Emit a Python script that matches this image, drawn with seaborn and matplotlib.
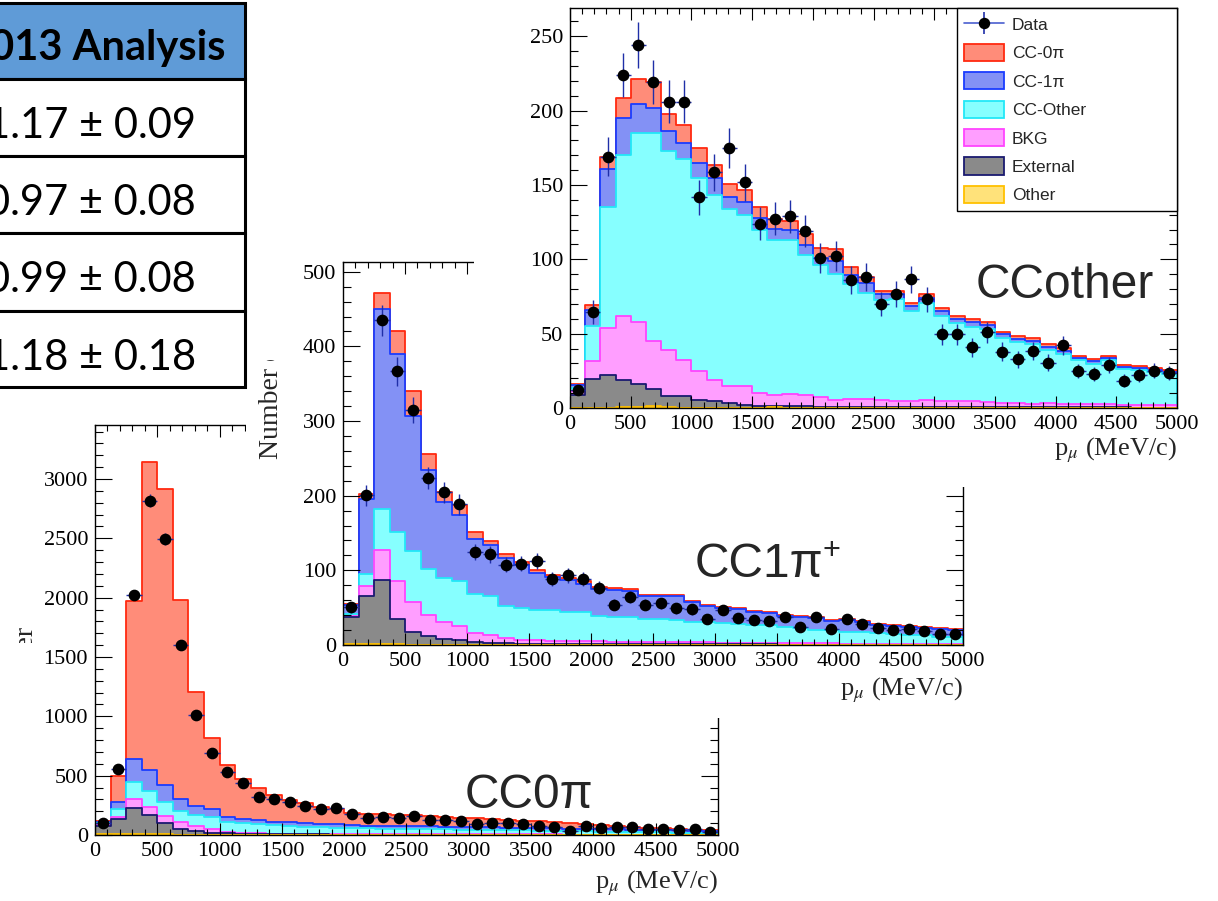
import numpy as np
import matplotlib
matplotlib.use("Agg")
import matplotlib.pyplot as plt
import seaborn as sns
from matplotlib.patches import Rectangle, Patch
from matplotlib.lines import Line2D
from matplotlib.ticker import MultipleLocator
from matplotlib.transforms import Bbox, TransformedBbox

sns.set_style("ticks")
plt.rcParams["font.family"] = ["Liberation Serif", "DejaVu Serif"]
plt.rcParams["mathtext.fontset"] = "stix"

# ------------------------------------------------------------------ data
bin_edges = list(range(0, 5001, 125))          # p_mu bins (MeV/c)
layer_names = ["CC-0\u03c0", "CC-1\u03c0", "CC-Other", "BKG", "External", "Other"]

table_header = "2013 Analysis"
table_rows = ["1.17 \u00b1 0.09", "0.97 \u00b1 0.08", "0.99 \u00b1 0.08", "1.18 \u00b1 0.18"]

# --- CCother sample: cumulative stack tops (top layer first) + data
ccoth_total = [16.2, 69.0, 169.0, 208.5, 221.5, 219.0, 198.0, 190.0, 175.0, 163.5,
               150.5, 146.7, 135.0, 127.0, 126.0, 117.0, 107.4, 107.0, 95.0, 88.3,
               79.0, 78.9, 70.8, 76.4, 67.4, 62.1, 59.6, 58.0, 51.3, 48.4,
               47.0, 42.8, 40.1, 35.2, 32.7, 35.2, 28.9, 28.4, 26.7, 25.5]
ccoth_to_1pi = [15.3, 66.0, 161.0, 195.0, 204.5, 202.0, 186.5, 178.5, 165.0, 155.0,
                142.0, 138.6, 128.0, 120.7, 119.5, 109.7, 101.0, 99.0, 89.4, 84.3,
                76.5, 76.6, 68.6, 74.2, 65.2, 60.1, 57.6, 56.0, 49.5, 46.6,
                45.2, 41.2, 38.5, 33.8, 31.4, 33.8, 27.7, 27.2, 25.6, 24.5]
ccoth_to_oth = [13.5, 55.0, 135.0, 170.0, 185.0, 185.0, 172.5, 167.5, 154.5, 143.0,
                133.7, 130.0, 120.0, 112.8, 112.8, 102.7, 96.0, 90.0, 83.6, 77.5,
                72.5, 73.4, 65.4, 70.9, 62.2, 57.3, 54.8, 53.3, 46.9, 44.1,
                43.0, 39.1, 36.5, 32.0, 29.6, 32.0, 26.1, 25.7, 24.1, 23.1]
ccoth_to_bkg = [11.7, 31.5, 53.5, 62.0, 58.0, 45.0, 39.0, 32.0, 25.0, 19.0,
                14.6, 14.6, 10.0, 9.0, 9.7, 9.0, 7.2, 5.6, 6.3, 6.3,
                5.5, 5.0, 5.0, 5.5, 4.5, 4.5, 4.6, 4.0, 3.5, 3.6,
                3.0, 3.1, 3.0, 2.5, 2.6, 2.4, 2.0, 2.1, 2.0, 1.9]
ccoth_to_ext = [9.0, 19.5, 22.0, 18.5, 16.0, 13.0, 8.0, 8.0, 5.6, 5.0,
                3.4, 2.2, 1.6, 1.6, 1.5, 1.3, 1.0, 1.0, 0.9, 0.9,
                0.8, 0.8, 0.8, 0.7, 0.7, 0.7, 0.6, 0.6, 0.6, 0.5,
                0.5, 0.5, 0.5, 0.4, 0.4, 0.4, 0.4, 0.3, 0.3, 0.3]
ccoth_to_other = [0.2, 0.2, 0.3, 0.4, 0.6, 1.2, 0.4, 0.3, 0.2, 0.2,
                  0.2, 0.2, 0.3, 1.0, 0.3, 0.2, 0.2, 0.2, 0.2, 0.2,
                  0.2, 0.2, 0.2, 0.2, 0.2, 0.2, 0.2, 0.2, 0.2, 0.2,
                  0.2, 0.2, 0.2, 0.2, 0.2, 0.2, 0.2, 0.2, 0.2, 0.2]
ccoth_data = [11.9, 64.5, 169.0, 224.0, 244.0, 219.5, 206.0, 206.0, 141.6, 158.4,
              174.8, 151.7, 124.0, 127.4, 128.8, 119.0, 100.7, 102.2, 86.0, 88.0,
              69.9, 76.4, 86.5, 73.0, 49.7, 49.7, 40.8, 51.0, 37.9, 32.7,
              38.5, 30.5, 42.1, 24.9, 22.8, 28.7, 18.4, 22.2, 25.1, 23.7]

# --- CC1pi+ sample
cc1pi_total = [55.0, 201.6, 471.8, 421.0, 339.6, 255.8, 205.2, 187.3, 151.4, 139.3,
               122.3, 111.1, 100.0, 94.0, 89.6, 85.1, 77.5, 76.2, 74.4, 67.2,
               67.0, 66.7, 58.7, 53.3, 51.1, 50.2, 45.3, 44.4, 40.0, 39.1,
               37.8, 33.3, 34.2, 32.4, 28.0, 26.7, 25.3, 24.4, 22.2, 20.9]
cc1pi_to_1pi = [53.0, 195.0, 449.4, 389.8, 307.3, 234.3, 190.9, 173.8, 142.5, 133.5,
                117.0, 106.6, 96.8, 91.0, 87.4, 82.0, 75.3, 73.9, 71.7, 65.4,
                65.3, 65.0, 57.0, 51.6, 49.5, 48.6, 43.8, 42.9, 38.6, 37.7,
                36.4, 32.0, 32.9, 31.2, 26.9, 25.6, 24.3, 23.4, 21.3, 20.0]
cc1pi_to_oth = [41.7, 95.4, 182.0, 151.4, 125.9, 102.0, 90.0, 86.0, 67.7, 65.4,
                52.9, 49.3, 47.5, 47.5, 43.9, 43.9, 39.4, 37.2, 37.2, 35.0,
                34.2, 33.3, 31.2, 30.8, 28.9, 28.7, 26.7, 26.4, 23.6, 23.3,
                20.2, 19.8, 17.8, 17.5, 15.6, 15.3, 13.4, 13.1, 11.2, 10.9]
cc1pi_to_bkg = [38.5, 78.9, 126.8, 85.1, 58.2, 40.3, 30.5, 26.0, 15.7, 14.0,
                9.4, 7.2, 6.7, 5.8, 5.5, 5.0, 5.0, 4.5, 4.5, 4.0,
                4.0, 3.5, 3.5, 3.5, 3.0, 3.0, 3.0, 2.8, 2.5, 2.5,
                2.5, 2.3, 2.0, 2.0, 2.0, 1.9, 1.8, 1.6, 1.5, 1.5]
cc1pi_to_ext = [37.0, 65.4, 86.5, 35.0, 17.0, 11.6, 8.0, 6.7, 3.6, 2.7,
                2.2, 2.0, 1.8, 1.6, 1.5, 1.4, 1.2, 1.1, 1.0, 1.0,
                0.9, 0.9, 0.8, 0.8, 0.8, 0.7, 0.7, 0.7, 0.6, 0.6,
                0.6, 0.5, 0.5, 0.5, 0.5, 0.4, 0.4, 0.4, 0.4, 0.4]
cc1pi_to_other = [1.5, 1.5, 1.5, 1.5, 0.4, 0.3, 0.2, 0.2, 0.2, 0.2,
                  0.2, 0.2, 0.2, 0.2, 0.2, 0.2, 0.2, 0.2, 0.2, 0.2,
                  0.2, 0.2, 0.2, 0.2, 0.2, 0.2, 0.2, 0.2, 0.2, 0.2,
                  0.2, 0.2, 0.2, 0.2, 0.2, 0.2, 0.2, 0.2, 0.2, 0.2]
cc1pi_data = [50.6, 200.7, 435.0, 366.5, 315.0, 224.0, 204.3, 188.2, 124.6, 121.4,
              107.5, 108.9, 112.0, 87.8, 93.2, 87.8, 76.6, 53.8, 64.0, 53.8,
              55.6, 48.9, 47.6, 34.7, 46.7, 36.4, 33.3, 32.0, 37.8, 24.4,
              36.9, 20.9, 34.2, 27.6, 22.7, 19.6, 21.8, 18.7, 14.7, 15.1]

# --- CC0pi sample
cc0pi_total = [122, 497, 1972, 3146, 2913, 1978, 1208, 815, 590, 469,
               393, 337, 295, 267, 239, 216, 188, 177, 174, 167,
               165, 160, 152, 147, 140, 133, 128, 120, 114, 108,
               100, 93, 84, 78, 70, 62, 56, 50, 46, 40]
cc0pi_to_1pi = [112, 278, 640, 548, 418, 302, 245, 218, 150, 138,
                128, 112, 107, 98, 93, 90, 84, 79, 79, 76,
                74, 72, 70, 68, 66, 64, 62, 60, 58, 55,
                53, 51, 49, 47, 45, 43, 41, 38, 36, 33]
cc0pi_to_oth = [100, 220, 449, 370, 275, 200, 168, 148, 112, 98,
                93, 84, 76, 70, 65, 62, 59, 56, 53, 52,
                50, 48, 47, 45, 44, 42, 41, 39, 37, 35,
                33, 31, 29, 27, 25, 24, 22, 20, 18, 17]
cc0pi_to_bkg = [88, 154, 305, 239, 160, 110, 78, 52, 28, 20,
                14, 12, 11, 10, 9, 9, 8, 8, 7, 7,
                7, 6, 6, 6, 6, 5, 5, 5, 5, 5,
                4, 4, 4, 4, 4, 3, 3, 3, 3, 3]
cc0pi_to_ext = [75, 132, 230, 168, 102, 52, 36, 21, 14, 11,
                8, 7, 6, 5, 5, 4, 4, 4, 3, 3,
                3, 3, 3, 3, 2, 2, 2, 2, 2, 2,
                2, 2, 2, 1.5, 1.5, 1.5, 1.5, 1.5, 1, 1]
cc0pi_to_other = [8, 8, 8, 8, 8, 3, 2, 2, 1.5, 1.5,
                  1, 1, 1, 1, 1, 1, 1, 1, 1, 1,
                  1, 1, 1, 1, 1, 1, 1, 1, 1, 1,
                  1, 1, 1, 1, 1, 1, 1, 1, 1, 1]
cc0pi_data = [100, 553, 2022, 2817, 2494, 1601, 1011, 688, 534, 441,
              317, 307, 276, 241, 223, 226, 175, 145, 153, 145,
              157, 127, 125, 121, 95, 105, 99, 93, 78, 65,
              35, 78, 58, 71, 71, 50, 48, 42, 48, 22]

# ------------------------------------------------------------------ style
fill_colors = ["#ff8c79", "#8391f5", "#86ffff", "#ff9eff", "#8a8a8a", "#ffe27a"]
edge_colors = ["#ff2a10", "#1a3cff", "#22e8f8", "#ff44ff", "#1a1a70", "#ffc000"]
err_color = "#1f2fa8"

W, H = 1218, 901
fig = plt.figure(figsize=(W / 100, H / 100), dpi=100)
fig.patch.set_facecolor("white")


def frac(l, t, r, b):
    return [l / W, 1 - b / H, (r - l) / W, (b - t) / H]


def fx(px):
    return px / W


def fy(py):
    return 1 - py / H


centers = [(a + b) / 2 for a, b in zip(bin_edges[:-1], bin_edges[1:])]


def draw_panel(ax, levels, data, ymax, ymaj, ymin):
    for lev, fc, ec in zip(levels, fill_colors, edge_colors):
        sns.histplot(x=centers, weights=lev, bins=bin_edges, element="step",
                     fill=True, color=fc, edgecolor=ec, linewidth=1.3,
                     alpha=1, ax=ax)
    data = np.asarray(data, dtype=float)
    eb = ax.errorbar(centers, data, xerr=62.5, yerr=np.sqrt(data), fmt="o",
                     color="black", ms=7.4, ecolor=err_color, elinewidth=1.0,
                     capsize=0, zorder=5)
    ax.set_xlim(0, 5000)
    ax.set_ylim(0, ymax)
    ax.set_xlabel("")
    ax.set_ylabel("")
    ax.set_axisbelow(False)
    ax.set_facecolor("white")
    ax.xaxis.set_major_locator(MultipleLocator(500))
    ax.xaxis.set_minor_locator(MultipleLocator(100))
    ax.yaxis.set_major_locator(MultipleLocator(ymaj))
    ax.yaxis.set_minor_locator(MultipleLocator(ymin))
    ax.tick_params(which="both", direction="in", top=True, right=True,
                   labeltop=False, labelright=False, color="black", width=0.8)
    ax.tick_params(axis="x", which="major", length=8.6, pad=5)
    ax.tick_params(axis="x", which="minor", length=4.3)
    ax.tick_params(axis="y", which="major", length=12, pad=5)
    ax.tick_params(axis="y", which="minor", length=6)
    ax.tick_params(labelsize=16, labelcolor="black")
    for s in ax.spines.values():
        s.set_color("black")
        s.set_linewidth(1.0)
        s.set_zorder(6)
    return eb


def xlabel(ax, right_px, base_px):
    ax.text(fx(right_px), fy(base_px), r"p$_{\mu}$ (MeV/c)", transform=fig.transFigure,
            ha="right", va="baseline", fontsize=19, family="Liberation Serif")


def background(l, t, r, b):
    a = fig.add_axes(frac(l, t, r, b))
    a.set_facecolor("white")
    a.set_xticks([])
    a.set_yticks([])
    for s in a.spines.values():
        s.set_visible(False)
    return a


big = dict(fontsize=34.5, family=["Liberation Sans", "DejaVu Sans"], ha="left",
           va="baseline")

# ---------------- CC0pi (bottom-left, lowest layer)
ax0 = fig.add_axes(frac(95, 425, 718, 835))
draw_panel(ax0, [cc0pi_total, cc0pi_to_1pi, cc0pi_to_oth, cc0pi_to_bkg,
                 cc0pi_to_ext, cc0pi_to_other], cc0pi_data, 3455, 500, 100)
xlabel(ax0, 718, 888)
ax0.text(fx(465), fy(808), "CC0\u03c0", transform=fig.transFigure, **big)
t0 = ax0.text(fx(26), fy(626), "Number", transform=fig.transFigure, rotation=90,
              ha="center", va="top", fontsize=20, family="Liberation Serif")
t0.set_clip_on(True)
t0.set_clip_box(TransformedBbox(Bbox([[0, fy(643)], [fx(60), fy(626)]]), fig.transFigure))

# ---------------- CC1pi+ (middle)
background(246, 256, 992, 718)
ax1 = fig.add_axes(frac(343, 262, 963, 645))
draw_panel(ax1, [cc1pi_total, cc1pi_to_1pi, cc1pi_to_oth, cc1pi_to_bkg,
                 cc1pi_to_ext, cc1pi_to_other], cc1pi_data, 513, 100, 20)
xlabel(ax1, 963, 695)
ax1.text(fx(695), fy(577), "CC1\u03c0", transform=fig.transFigure, **big)
ax1.text(fx(823), fy(536), "+", transform=fig.transFigure, fontsize=22,
         family=["Liberation Sans", "DejaVu Sans"], ha="left", va="top")
t1 = ax1.text(fx(272), fy(459), "Number of events", transform=fig.transFigure,
              rotation=90, ha="center", va="bottom", fontsize=20,
              family="Liberation Serif")
t1.set_clip_on(True)
t1.set_clip_box(TransformedBbox(Bbox([[fx(240), fy(472)], [fx(300), fy(360)]]),
                                fig.transFigure))

# ---------------- CCother (top-right, upper layer)
background(474, 0, 1218, 487)
ax2 = fig.add_axes(frac(570, 8, 1177, 408))
eb2 = draw_panel(ax2, [ccoth_total, ccoth_to_1pi, ccoth_to_oth, ccoth_to_bkg,
                       ccoth_to_ext, ccoth_to_other], ccoth_data, 269, 50, 10)
xlabel(ax2, 1177, 455)
ax2.text(fx(976), fy(298), "CCother", transform=fig.transFigure, **big)

data_handle = (Line2D([], [], color="#4a5fd0", lw=1.2),
               Line2D([], [], ls="none", marker="|", ms=16, mew=1.2, mec=err_color),
               Line2D([], [], ls="none", marker="o", ms=7.2, color="black"))
handles = [data_handle] + [Patch(facecolor=fc, edgecolor=ec, lw=1.3)
                           for fc, ec in zip(fill_colors, edge_colors)]
labels = ["Data"] + layer_names
leg = ax2.legend(handles, labels, loc="upper left",
                 bbox_to_anchor=((957 - 570) / 607, 0, (1177 - 957) / 607, 1.0),
                 mode="expand", borderaxespad=0, frameon=True, fancybox=False,
                 edgecolor="black", framealpha=1, handlelength=2.3,
                 handleheight=1.15, labelspacing=0.63, borderpad=0.42,
                 handletextpad=0.45,
                 prop={"family": "Liberation Sans", "size": 12.5})
leg.get_frame().set_linewidth(1.0)
leg.set_zorder(10)

# ---------------- table (top-left)
axt = fig.add_axes([0, 0, 1, 1])
axt.set_xlim(0, W)
axt.set_ylim(H, 0)
axt.axis("off")
row_bounds = [3, 79, 156, 233, 311, 387]
axt.add_patch(Rectangle((-20, row_bounds[0]), 265, row_bounds[1] - row_bounds[0],
                        facecolor="#5f9bd7", edgecolor="black", lw=2.2))
for i in range(4):
    axt.add_patch(Rectangle((-20, row_bounds[i + 1]), 265,
                            row_bounds[i + 2] - row_bounds[i + 1],
                            facecolor="white", edgecolor="black", lw=2.2))
axt.text(226, 60, table_header, ha="right", va="baseline", fontsize=30,
         fontweight="bold", family=["Lato", "DejaVu Sans"], color="black")
for i, txt in enumerate(table_rows):
    axt.text(196, row_bounds[i + 1] + 59, txt, ha="right", va="baseline",
             fontsize=30, family=["Lato", "DejaVu Sans"], color="black")

fig.savefig("out.png", dpi=100, facecolor="white")
